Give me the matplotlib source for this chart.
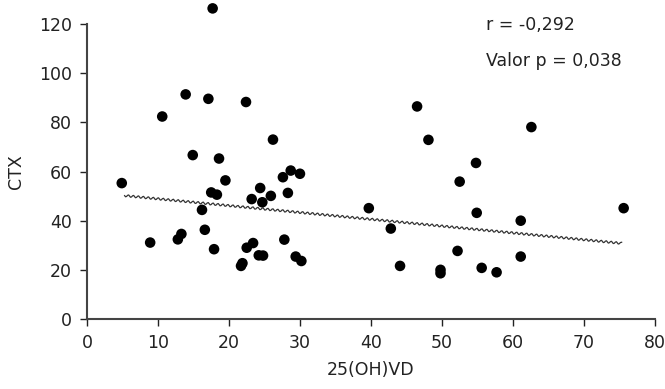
import numpy as np
import matplotlib
matplotlib.use("Agg")
import matplotlib.pyplot as plt

# 25(OH)VD vs CTX
vit_d = [4.9, 8.9, 10.6, 12.8, 13.3, 13.9, 14.9, 16.2, 16.6, 17.1, 17.7, 17.5, 18.3,
         17.9, 18.6, 19.5, 22.4, 21.7, 21.9, 22.5, 23.4, 23.2, 24.4, 24.7, 24.2, 24.8,
         25.9, 26.2, 27.6, 27.8, 28.3, 28.7, 30.0, 29.4, 30.2, 39.7, 42.8, 44.1, 46.5,
         48.1, 49.8, 49.8, 52.2, 52.5, 54.8, 54.9, 55.6, 57.7, 61.1, 61.1, 62.6, 75.6]
ctx = [55.3, 31.1, 82.4, 32.4, 34.6, 91.4, 66.7, 44.4, 36.3, 89.6, 126.4, 51.5, 50.6,
       28.4, 65.3, 56.4, 88.3, 21.6, 22.7, 29.0, 30.9, 48.8, 53.3, 47.5, 25.9, 25.8,
       50.1, 73.0, 57.7, 32.3, 51.3, 60.4, 59.1, 25.4, 23.6, 45.1, 36.8, 21.6, 86.5,
       72.9, 20.0, 18.6, 27.7, 55.9, 63.5, 43.2, 20.8, 19.0, 40.0, 25.4, 78.1, 45.1]

# trend line end points
trend_x = [5.3, 75.3]
trend_y = [50.2, 30.8]

stats = ["r = -0,292", "Valor p = 0,038"]

plt.rcParams['font.family'] = ['DejaVu Sans']

fig = plt.figure(figsize=(6.65, 3.89), dpi=100)
ax = fig.add_axes([0.1308, 0.18, 0.854, 0.758])

ax.scatter(vit_d, ctx, s=58, color="black", edgecolors="none", clip_on=False, zorder=3)

line, = ax.plot(trend_x, trend_y, color="#333333", lw=0.9)
line.set_sketch_params(scale=1.1, length=5, randomness=1)

ax.set_xlim(0, 80)
ax.set_ylim(0, 120)
ax.set_xticks(np.arange(0, 81, 10))
ax.set_yticks(np.arange(0, 121, 20))

for s in ["top", "right"]:
    ax.spines[s].set_visible(False)
for s in ["left", "bottom"]:
    ax.spines[s].set_color("#444444")
    ax.spines[s].set_linewidth(1.5)

ax.tick_params(axis="both", direction="out", length=5, width=1, colors="#222222",
               labelsize=12.5, labelcolor="#222222", pad=6)

ax.set_xlabel("25(OH)VD", fontsize=12.5, color="#222222", labelpad=6)
ax.set_ylabel("CTX", fontsize=12.5, color="#222222", labelpad=10)

fig.text(0.731, 0.923, stats[0], fontsize=12.5, color="#222222", va="baseline")
fig.text(0.731, 0.830, stats[1], fontsize=12.5, color="#222222", va="baseline")

fig.savefig("out.png", dpi=100)
